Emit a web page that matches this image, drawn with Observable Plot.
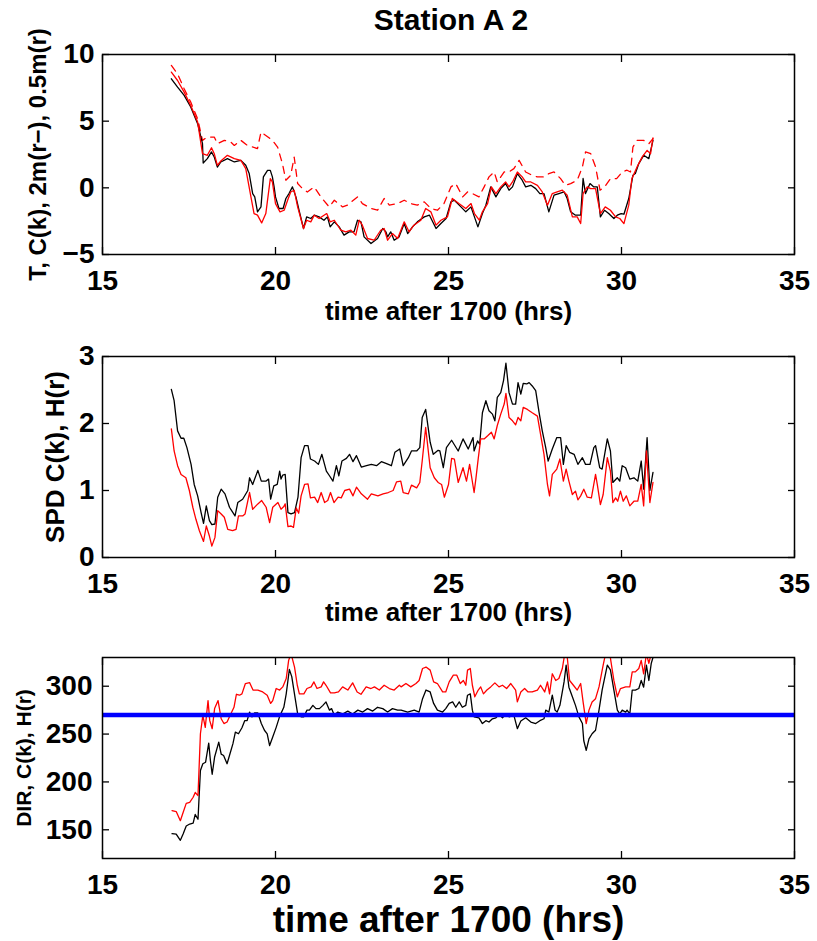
<!DOCTYPE html>
<html><head><meta charset="utf-8">
<script src="https://cdn.jsdelivr.net/npm/d3@7"></script>
<script src="https://cdn.jsdelivr.net/npm/@observablehq/plot@0.6"></script>
<style>
body{margin:0;background:#fff;}
#wrap{position:relative;width:817px;height:941px;font-family:"Liberation Sans",Arial,Helvetica,sans-serif;}
#title{position:absolute;left:105px;width:692px;top:5px;text-align:center;font-size:30px;line-height:30px;font-weight:bold;z-index:2;}
.panel{position:absolute;left:0;}
</style>
</head><body><div id="wrap"></div>
<script>
const titleText = "Station A 2";
const xLabel = "time after 1700 (hrs)";
const timeTicks = [15, 20, 25, 30, 35];
const tempTicks = [-5, 0, 5, 10];
const spdTicks = [0, 1, 2, 3];
const dirTicks = [150, 200, 250, 300];
const tempLabel = "T, C(k), 2m(r\u2212), 0.5m(r)";
const spdLabel = "SPD C(k), H(r)";
const dirLabel = "DIR, C(k), H(r)";
const dirReference = [270];

// Panel 1: temperature  [time, value]
const tempCk = [[16.99,8.18],[17.17,7.55],[17.36,6.93],[17.55,6.06],[17.75,4.81],[17.89,3.31],[17.91,1.86],[18.03,2.19],[18.15,2.69],[18.23,2.31],[18.32,1.56],[18.42,1.94],[18.61,2.19],[18.81,1.94],[19.0,2.06],[19.14,1.69],[19.24,1.07],[19.34,-0.43],[19.40,-0.68],[19.48,-1.8],[19.58,-1.43],[19.65,0.82],[19.77,1.31],[19.85,1.31],[19.91,0.82],[19.96,0.07],[20.0,-0.68],[20.1,-1.55],[20.22,-1.55],[20.30,-0.8],[20.39,-0.43],[20.49,0.07],[20.59,-0.68],[20.68,-1.68],[20.81,-3.05],[20.9,-2.18],[21.02,-2.3],[21.12,-2.05],[21.26,-2.18],[21.4,-2.43],[21.5,-2.18],[21.58,-2.93],[21.70,-2.55],[21.84,-2.93],[21.98,-3.55],[22.13,-3.3],[22.27,-3.3],[22.37,-2.43],[22.47,-2.55],[22.56,-3.68],[22.76,-4.18],[22.95,-3.8],[23.1,-3.05],[23.19,-3.3],[23.24,-3.68],[23.33,-3.3],[23.43,-3.93],[23.57,-3.68],[23.72,-2.68],[23.82,-3.43],[23.96,-2.93],[24.1,-2.55],[24.3,-2.18],[24.45,-2.05],[24.64,-3.05],[24.78,-2.68],[24.93,-2.3],[25.07,-1.05],[25.17,-0.93],[25.36,-1.43],[25.5,-1.8],[25.65,-1.43],[25.75,-2.18],[25.85,-2.93],[25.98,-1.93],[26.08,-1.3],[26.22,0.07],[26.37,-0.68],[26.51,-0.06],[26.65,0.32],[26.75,-0.18],[26.85,0.07],[26.99,1.07],[27.13,0.57],[27.23,0.07],[27.38,0.19],[27.52,-0.06],[27.64,-0.43],[27.76,-0.43],[27.9,-1.8],[28.05,-0.55],[28.19,-0.43],[28.34,-0.3],[28.43,-0.8],[28.53,-1.8],[28.67,-2.05],[28.82,-2.05],[28.89,0.7],[28.96,-0.43],[29.09,0.32],[29.2,0.07],[29.3,0.07],[29.39,-2.18],[29.51,-1.68],[29.63,-1.93],[29.78,-2.3],[29.88,-2.05],[29.99,-1.93],[30.07,-1.98],[30.21,-0.8],[30.33,0.94],[30.4,1.07],[30.5,1.82],[30.64,2.44],[30.79,2.19],[30.91,3.56]];
const temp2m = [[16.99,9.18],[17.17,8.55],[17.36,7.43],[17.55,6.43],[17.75,5.18],[17.89,3.56],[18.03,3.81],[18.23,3.81],[18.32,3.31],[18.52,3.56],[18.71,3.43],[18.81,3.18],[19.0,3.56],[19.19,3.18],[19.48,2.94],[19.58,4.18],[19.72,3.93],[19.91,3.56],[20.06,3.06],[20.2,1.81],[20.3,0.57],[20.44,0.94],[20.54,2.31],[20.64,0.32],[20.78,-0.06],[20.92,-0.31],[21.12,0.07],[21.31,-0.68],[21.55,-1.43],[21.7,-0.93],[21.94,-1.43],[22.08,-1.3],[22.37,-0.68],[22.51,-1.18],[22.76,-1.55],[22.95,-1.68],[23.14,-0.8],[23.29,-1.3],[23.53,-1.18],[23.72,-0.93],[23.91,-1.18],[24.1,-1.3],[24.3,-1.05],[24.49,-1.55],[24.68,-1.68],[24.87,-1.18],[25.07,0.07],[25.21,0.32],[25.41,-0.68],[25.55,-0.31],[25.69,-0.43],[25.88,-0.68],[26.03,0.07],[26.17,0.82],[26.32,1.19],[26.41,0.44],[26.61,1.19],[26.75,1.19],[26.89,1.44],[27.04,2.06],[27.23,1.19],[27.42,0.94],[27.57,0.82],[27.76,0.82],[27.9,1.07],[28.05,1.19],[28.24,0.69],[28.38,0.19],[28.53,0.32],[28.72,0.57],[28.87,1.57],[28.96,2.69],[29.11,2.56],[29.25,1.57],[29.38,-0.18],[29.51,0.07],[29.68,0.69],[29.86,0.69],[30.02,1.19],[30.16,1.32],[30.26,1.19],[30.33,3.06],[30.45,3.56],[30.64,3.56],[30.79,3.31],[30.91,3.69]];
const temp05m = [[16.99,8.68],[17.17,8.05],[17.36,7.18],[17.55,6.18],[17.75,4.93],[17.89,2.56],[18.03,2.44],[18.15,3.01],[18.23,2.56],[18.32,1.69],[18.42,2.01],[18.61,2.44],[18.81,2.19],[19.0,2.06],[19.14,1.44],[19.29,-0.68],[19.38,-1.93],[19.48,-2.05],[19.6,-2.63],[19.72,-1.93],[19.85,0.69],[19.91,0.44],[20.0,-1.18],[20.13,-1.8],[20.25,-1.68],[20.35,-0.93],[20.44,-0.31],[20.54,-0.18],[20.64,-1.43],[20.81,-3.05],[20.9,-2.43],[21.02,-2.55],[21.12,-2.05],[21.26,-2.3],[21.48,-1.93],[21.58,-2.55],[21.7,-2.43],[21.89,-3.18],[22.03,-3.3],[22.18,-3.18],[22.32,-3.55],[22.42,-2.43],[22.51,-2.8],[22.66,-3.8],[22.85,-3.93],[23.04,-3.18],[23.14,-3.05],[23.24,-3.93],[23.38,-3.43],[23.53,-3.8],[23.72,-2.55],[23.86,-3.3],[24.0,-2.8],[24.2,-2.43],[24.34,-1.55],[24.49,-1.8],[24.64,-2.8],[24.78,-2.43],[24.97,-2.18],[25.11,-0.8],[25.3,-1.18],[25.5,-1.55],[25.65,-1.18],[25.75,-1.93],[25.89,-2.43],[25.98,-1.8],[26.13,-1.18],[26.24,0.07],[26.37,-0.43],[26.51,0.07],[26.65,0.44],[26.75,0.07],[26.85,0.44],[26.99,1.19],[27.13,0.82],[27.23,0.44],[27.38,0.44],[27.57,0.19],[27.71,-0.31],[27.86,-1.3],[28.0,-0.43],[28.14,-0.31],[28.29,-0.18],[28.43,-0.55],[28.58,-2.18],[28.72,-2.18],[28.82,-2.68],[28.89,-0.43],[29.01,0.07],[29.11,-0.06],[29.25,-0.06],[29.39,-1.93],[29.53,-1.43],[29.68,-1.68],[29.83,-2.18],[29.95,-2.3],[30.07,-2.68],[30.21,-1.3],[30.3,0.69],[30.45,1.57],[30.6,2.32],[30.74,2.81],[30.84,2.56],[30.91,3.74]];

// Panel 2: wind speed  [time, value]
const spdCk = [[16.99,2.51],[17.07,2.34],[17.17,1.89],[17.27,1.78],[17.35,1.78],[17.44,1.64],[17.56,1.39],[17.65,1.09],[17.75,0.92],[17.85,0.67],[17.92,0.51],[18.0,0.77],[18.09,0.55],[18.16,0.49],[18.25,0.5],[18.33,0.9],[18.43,1.02],[18.54,0.95],[18.67,0.75],[18.83,0.62],[18.91,0.82],[19.05,0.87],[19.2,1.0],[19.25,1.19],[19.34,1.09],[19.49,1.3],[19.59,1.14],[19.73,1.14],[19.8,1.17],[19.86,0.87],[19.95,1.07],[20.05,1.09],[20.12,1.29],[20.16,1.17],[20.21,1.23],[20.28,1.24],[20.36,0.67],[20.45,0.65],[20.55,0.67],[20.65,0.9],[20.74,1.49],[20.84,1.67],[20.94,1.67],[21.01,1.47],[21.13,1.44],[21.24,1.39],[21.34,1.54],[21.47,1.29],[21.56,1.22],[21.66,1.14],[21.76,1.37],[21.83,1.22],[21.92,1.44],[22.05,1.48],[22.14,1.54],[22.24,1.43],[22.34,1.52],[22.48,1.35],[22.63,1.37],[22.77,1.39],[22.92,1.37],[23.06,1.43],[23.21,1.4],[23.35,1.37],[23.45,1.57],[23.59,1.62],[23.69,1.37],[23.84,1.49],[23.93,1.59],[24.08,1.59],[24.17,1.64],[24.24,2.09],[24.34,2.21],[24.47,1.72],[24.56,1.54],[24.7,1.6],[24.75,1.59],[24.85,1.34],[24.94,1.64],[25.09,1.75],[25.28,1.59],[25.42,1.77],[25.57,1.62],[25.71,1.79],[25.74,1.59],[25.84,1.74],[25.9,1.69],[25.98,2.16],[26.08,2.34],[26.17,2.19],[26.27,2.14],[26.34,2.04],[26.41,2.39],[26.51,2.46],[26.59,2.64],[26.66,2.9],[26.75,2.46],[26.85,2.29],[26.94,2.29],[27.01,2.61],[27.09,2.44],[27.16,2.6],[27.26,2.59],[27.33,2.61],[27.42,2.56],[27.52,2.49],[27.62,2.16],[27.71,1.89],[27.81,1.64],[27.88,1.44],[28.0,1.62],[28.13,1.79],[28.24,1.79],[28.32,1.39],[28.4,1.67],[28.5,1.57],[28.63,1.54],[28.74,1.39],[28.87,1.49],[28.96,1.39],[29.09,1.39],[29.2,1.64],[29.25,1.67],[29.37,1.34],[29.44,1.32],[29.59,1.77],[29.68,1.59],[29.75,1.12],[29.88,1.19],[29.95,1.14],[30.02,1.37],[30.12,1.34],[30.24,1.17],[30.36,1.19],[30.47,1.14],[30.57,1.44],[30.64,1.02],[30.74,1.79],[30.82,1.0],[30.91,1.27]];
const spdHr = [[16.99,1.92],[17.07,1.59],[17.17,1.37],[17.27,1.24],[17.41,1.19],[17.51,1.0],[17.61,0.75],[17.7,0.57],[17.8,0.4],[17.92,0.24],[18.0,0.47],[18.09,0.32],[18.16,0.17],[18.25,0.3],[18.33,0.7],[18.43,0.65],[18.52,0.6],[18.62,0.42],[18.76,0.4],[18.86,0.42],[18.93,0.62],[19.05,0.62],[19.12,0.65],[19.25,0.97],[19.34,0.72],[19.49,0.8],[19.6,0.85],[19.73,0.75],[19.83,0.52],[19.92,0.75],[20.07,0.82],[20.16,0.72],[20.24,0.76],[20.28,0.8],[20.36,0.46],[20.45,0.47],[20.52,0.45],[20.6,0.74],[20.67,0.66],[20.74,0.92],[20.84,1.09],[20.94,1.1],[21.01,0.89],[21.13,0.9],[21.22,0.82],[21.32,0.97],[21.42,0.82],[21.51,0.85],[21.59,0.97],[21.69,0.82],[21.81,0.9],[21.9,0.89],[22.0,1.0],[22.14,1.02],[22.24,0.92],[22.34,1.05],[22.48,0.95],[22.66,0.87],[22.77,0.95],[22.96,0.92],[23.11,0.95],[23.26,0.97],[23.4,1.0],[23.5,1.13],[23.62,1.14],[23.69,0.97],[23.84,0.95],[23.93,1.08],[24.08,1.04],[24.17,1.12],[24.24,1.44],[24.34,1.94],[24.47,1.34],[24.59,1.19],[24.7,1.12],[24.8,1.09],[24.88,0.9],[25.0,1.09],[25.09,1.48],[25.17,1.47],[25.28,1.12],[25.42,1.34],[25.52,1.14],[25.61,1.39],[25.74,0.97],[25.79,1.17],[25.86,1.48],[25.93,1.77],[26.03,1.77],[26.14,1.82],[26.24,1.87],[26.32,1.77],[26.41,1.97],[26.51,2.14],[26.61,2.29],[26.66,2.45],[26.75,2.09],[26.85,2.04],[26.94,1.98],[27.01,2.09],[27.09,2.04],[27.16,2.24],[27.28,2.21],[27.42,2.16],[27.57,2.11],[27.66,1.84],[27.76,1.54],[27.86,1.09],[27.92,0.92],[28.0,1.24],[28.13,1.32],[28.22,1.47],[28.32,1.14],[28.4,1.32],[28.48,1.14],[28.58,0.94],[28.67,0.99],[28.74,0.86],[28.82,0.92],[28.91,1.02],[29.01,0.9],[29.13,0.89],[29.25,1.24],[29.3,1.09],[29.39,0.79],[29.47,0.94],[29.59,1.49],[29.68,1.29],[29.75,0.82],[29.83,0.89],[29.89,0.84],[29.97,0.99],[30.05,0.84],[30.14,0.92],[30.24,0.77],[30.36,0.84],[30.47,0.84],[30.57,1.09],[30.64,0.77],[30.72,1.59],[30.82,0.82],[30.91,1.12]];

// Panel 3: wind direction  [time, value]
const dirCk = [[17.01,146],[17.13,145.5],[17.25,139],[17.33,145.5],[17.42,154],[17.52,156],[17.62,157],[17.68,166],[17.76,161],[17.83,212],[17.9,219],[17.98,220.6],[18.07,240.6],[18.12,222],[18.17,208],[18.24,226],[18.36,241.6],[18.43,229],[18.5,227.6],[18.6,219],[18.67,227.6],[18.77,240],[18.84,252],[18.93,250.3],[19.03,256.6],[19.11,264],[19.18,264],[19.25,273],[19.32,268],[19.39,272],[19.49,272],[19.59,261],[19.68,254],[19.76,250.3],[19.83,238],[19.92,247],[20.02,257],[20.12,268.5],[20.24,278],[20.31,292],[20.4,317.5],[20.47,310],[20.57,287],[20.64,271],[20.74,268],[20.82,268],[20.91,275],[20.98,275],[21.08,280],[21.17,276.6],[21.27,276.6],[21.37,280],[21.46,283.6],[21.56,275],[21.62,276.6],[21.7,269.6],[21.8,273],[21.94,271],[22.09,274],[22.23,271],[22.38,275],[22.52,273],[22.66,276.6],[22.81,274],[22.95,278],[23.1,276.6],[23.24,273],[23.38,276.6],[23.53,275],[23.63,275],[23.82,273],[24.01,275],[24.15,273],[24.25,287],[24.35,296],[24.47,294],[24.57,282],[24.68,275],[24.83,273],[24.92,276.6],[25.02,282],[25.12,283.6],[25.21,278],[25.31,283.6],[25.4,278],[25.5,280],[25.55,290.6],[25.63,292],[25.69,275],[25.74,268],[25.88,267],[25.98,261],[26.08,264],[26.17,262.6],[26.27,266],[26.37,267],[26.46,270.6],[26.56,267],[26.65,270.6],[26.75,268],[26.89,269.6],[26.99,255.6],[27.09,263.6],[27.23,267],[27.38,262.6],[27.52,261],[27.64,264],[27.76,266],[27.81,275],[27.9,273],[28.0,290.6],[28.08,275],[28.14,273],[28.22,280],[28.34,304.5],[28.4,322],[28.48,299],[28.58,289],[28.67,280],[28.77,268],[28.87,261],[28.91,243],[28.98,233],[29.06,245],[29.15,250.3],[29.25,254],[29.35,275],[29.44,296],[29.59,322],[29.68,317],[29.78,296],[29.88,275],[29.95,271],[30.02,275],[30.12,273],[30.16,275],[30.24,271],[30.31,296],[30.4,296],[30.5,297.6],[30.57,306],[30.64,299],[30.72,322],[30.79,306],[30.86,323.8],[30.91,330]];
const dirHr = [[17.01,170],[17.13,169],[17.25,159.5],[17.33,168],[17.42,177.6],[17.52,178.7],[17.62,184],[17.68,189],[17.76,185.7],[17.83,250.3],[17.9,269.6],[17.97,257],[18.05,285],[18.1,264],[18.17,255.6],[18.24,276.6],[18.34,285],[18.43,266],[18.51,261],[18.6,262.6],[18.67,268],[18.8,278],[18.87,291.6],[18.96,290.6],[19.03,292],[19.13,302.8],[19.25,303.8],[19.35,296],[19.49,296],[19.63,294],[19.76,290.6],[19.86,282],[19.92,285],[20.02,297.6],[20.12,296],[20.21,299.3],[20.31,308],[20.38,327],[20.45,334],[20.55,320],[20.63,301],[20.69,292],[20.82,292],[20.91,297.6],[21.03,299.3],[21.11,304.5],[21.2,297.6],[21.32,299.3],[21.39,304.5],[21.46,301],[21.59,293],[21.7,293],[21.82,294],[21.94,299.3],[22.09,296],[22.23,303.5],[22.36,294],[22.47,291.6],[22.62,299.3],[22.76,297.6],[22.86,299.3],[23.0,296],[23.14,301],[23.29,297.6],[23.43,296],[23.58,301],[23.63,299.3],[23.77,302.8],[23.91,299.3],[24.06,302.8],[24.15,306],[24.25,318.5],[24.35,320],[24.47,316.8],[24.57,304.5],[24.68,302.8],[24.83,294],[24.92,294],[25.02,304.5],[25.14,311.5],[25.24,311.5],[25.34,302.8],[25.43,306],[25.5,301],[25.55,316.8],[25.63,318.5],[25.69,301],[25.76,289],[25.86,296],[25.93,299.3],[26.01,292],[26.11,296],[26.22,299.3],[26.34,303.5],[26.46,299.3],[26.56,301],[26.68,297.6],[26.8,302.8],[26.94,296],[26.99,283.6],[27.09,294],[27.2,297.6],[27.3,294],[27.42,294],[27.57,296],[27.66,301],[27.78,294],[27.86,304.5],[27.92,292],[28.0,313],[28.1,306],[28.19,308],[28.29,318.5],[28.36,334],[28.43,331],[28.5,306],[28.61,301],[28.72,296],[28.82,302.8],[28.89,283.6],[28.98,261],[29.06,275],[29.15,283.6],[29.25,287],[29.35,299.3],[29.47,322],[29.54,334],[29.66,334],[29.78,306],[29.88,289],[29.97,297.6],[30.12,299.3],[30.24,299.3],[30.31,315],[30.4,315],[30.5,318.5],[30.57,327],[30.64,313],[30.72,334],[30.79,324],[30.86,334],[30.91,334]];

const FONT = '"Liberation Sans", Arial, Helvetica, sans-serif';
const wrap = document.getElementById("wrap");
const fmt = d3.format("d");

function panel(o) {
  const svg = Plot.plot({
    width: 817, height: o.height,
    marginLeft: 102, marginRight: 23, marginTop: o.marginTop, marginBottom: o.marginBottom,
    style: {fontFamily: FONT, background: "white", overflow: "visible", color: "black"},
    x: {domain: [15, 35]},
    y: {domain: o.yDomain},
    marks: [
      ...o.marks,
      Plot.frame({stroke: "black", strokeWidth: 1.5}),
      Plot.axisX(timeTicks, {anchor: "bottom", tickSize: -7, tickPadding: 23, tickFormat: fmt, fontSize: 28, fontWeight: "bold", label: null, strokeWidth: 1.3}),
      Plot.axisX(timeTicks, {anchor: "top", tickSize: -7, tickFormat: () => "", label: null, strokeWidth: 1.3}),
      Plot.axisY(o.yTicks, {anchor: "left", tickSize: -7, tickPadding: o.yPad, tickFormat: fmt, fontSize: 28, fontWeight: "bold", label: null, strokeWidth: 1.3}),
      Plot.axisY(o.yTicks, {anchor: "right", tickSize: -7, tickFormat: () => "", label: null, strokeWidth: 1.3}),
      Plot.text([xLabel], {frameAnchor: "bottom", text: d => d, dy: o.xlabelDy, lineAnchor: "bottom", fontSize: o.xlabelSize, fontWeight: "bold"}),
      Plot.text([o.ylabel], {frameAnchor: "left", text: d => d, dx: o.ylabelDx, rotate: -90, textAnchor: "middle", fontSize: o.ylabelSize, fontWeight: "bold"})
    ]
  });
  svg.classList.add("panel");
  svg.style.top = o.top + "px";
  wrap.appendChild(svg);
}

const X = d => d[0], Y = d => d[1];

panel({top: 0, height: 330, marginTop: 54, marginBottom: 76, yDomain: [-5, 10], yTicks: tempTicks, yPad: 15,
  ylabel: tempLabel, ylabelSize: 24, ylabelDx: -64, xlabelSize: 26, xlabelDy: 65,
  marks: [
    Plot.line(temp2m, {x: X, y: Y, stroke: "#ff0000", strokeWidth: 1.3, strokeDasharray: "7,6", clip: true}),
    Plot.line(tempCk, {x: X, y: Y, stroke: "black", strokeWidth: 1.3, clip: true}),
    Plot.line(temp05m, {x: X, y: Y, stroke: "#ff0000", strokeWidth: 1.3, clip: true})
  ]});

panel({top: 330, height: 300, marginTop: 26, marginBottom: 73, yDomain: [0, 3], yTicks: spdTicks, yPad: 15,
  ylabel: spdLabel, ylabelSize: 26, ylabelDx: -47, xlabelSize: 26, xlabelDy: 63,
  marks: [
    Plot.line(spdCk, {x: X, y: Y, stroke: "black", strokeWidth: 1.3, clip: true}),
    Plot.line(spdHr, {x: X, y: Y, stroke: "#ff0000", strokeWidth: 1.3, clip: true})
  ]});

panel({top: 630, height: 311, marginTop: 27, marginBottom: 83, yDomain: [120, 330], yTicks: dirTicks, yPad: 17,
  ylabel: dirLabel, ylabelSize: 21, ylabelDx: -78, xlabelSize: 37, xlabelDy: 73,
  marks: [
    Plot.line(dirCk, {x: X, y: Y, stroke: "black", strokeWidth: 1.3, clip: true}),
    Plot.line(dirHr, {x: X, y: Y, stroke: "#ff0000", strokeWidth: 1.3, clip: true}),
    Plot.ruleY(dirReference, {y: d => d, stroke: "#0000ff", strokeWidth: 4.5})
  ]});

const t = document.createElement("div");
t.id = "title";
t.textContent = titleText;
wrap.appendChild(t);
</script>
</body></html>
